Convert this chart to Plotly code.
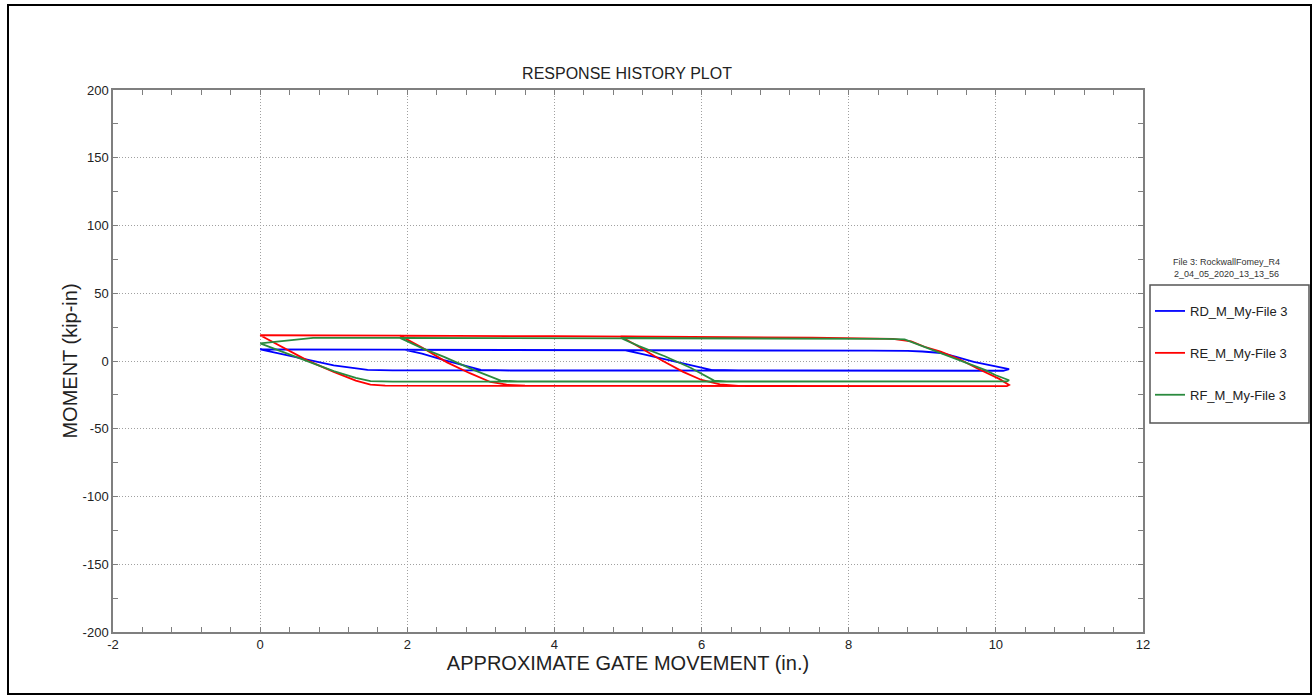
import plotly.graph_objects as go

# ---- response history of the three gate sensors (moment vs. gate movement) ----
# Each series is a sequence of branches: unloading at a reversal point,
# travel to the far end, reload at the far end, and return along the top.

# RD
rd_unload_0_x = [0.0, 0.3, 0.64, 1.0, 1.46, 1.8]
rd_unload_0_y = [8.6, 5.0, 0.7, -3.3, -6.6, -6.9]
rd_unload_2_x = [1.97, 2.2, 2.5, 3.0, 3.4]
rd_unload_2_y = [8.2, 5.5, 0.7, -6.6, -7.0]
rd_unload_5_x = [4.95, 5.2, 5.54, 6.13, 6.5]
rd_unload_5_y = [8.0, 5.0, 0.7, -6.6, -7.0]
rd_bottom_x = [5.0, 8.0, 10.1]
rd_bottom_y = [-7.0, -7.1, -7.2]
rd_reload_x = [10.18, 9.95, 9.7, 9.45, 9.26, 9.0, 8.8, 8.3]
rd_reload_y = [-6.0, -3.4, -0.7, 3.2, 5.9, 7.0, 7.4, 7.6]
rd_top_x = [6.0, 4.0, 2.0, 0.0]
rd_top_y = [7.9, 8.1, 8.2, 8.6]

# RE
re_unload_0_x = [0.0, 0.3, 0.64, 1.0, 1.3, 1.5, 1.7]
re_unload_0_y = [19.0, 10.5, 0.5, -8.0, -14.5, -17.5, -18.2]
re_unload_2_x = [1.9, 2.2, 2.54, 2.85, 3.13, 3.35, 3.6]
re_unload_2_y = [18.7, 10.0, -1.0, -9.0, -15.5, -17.5, -18.2]
re_unload_5_x = [4.9, 5.1, 5.45, 5.75, 6.0, 6.25, 6.5]
re_unload_5_y = [18.1, 12.0, 0.7, -8.0, -14.0, -17.3, -18.3]
re_bottom_x = [5.0, 7.0, 9.0, 10.15]
re_bottom_y = [-18.4, -18.5, -18.5, -18.6]
re_reload_x = [10.18, 10.04, 9.75, 9.5, 9.25, 9.03, 8.85, 8.6]
re_reload_y = [-17.7, -13.0, -5.5, 1.5, 7.0, 10.5, 14.5, 16.3]
re_top_x = [7.5, 6.0, 4.0, 1.9, 0.0]
re_top_y = [17.2, 17.8, 18.3, 18.7, 19.0]

# RF
rf_unload_0_x = [0.0, 0.3, 0.64, 1.0, 1.3, 1.5, 1.8]
rf_unload_0_y = [13.0, 7.0, 0.0, -7.5, -12.5, -14.8, -15.2]
rf_unload_2_x = [1.9, 2.2, 2.5, 2.9, 3.27, 3.5]
rf_unload_2_y = [17.1, 9.5, 3.0, -6.5, -14.5, -15.1]
rf_unload_5_x = [4.9, 5.15, 5.5, 5.85, 6.17, 6.4]
rf_unload_5_y = [17.0, 11.0, 3.5, -5.0, -14.5, -15.2]
rf_bottom_x = [5.0, 8.0, 10.15]
rf_bottom_y = [-15.1, -15.0, -15.0]
rf_reload_x = [10.18, 10.0, 9.85, 9.5, 9.25, 9.03, 8.76, 8.5]
rf_reload_y = [-14.2, -10.5, -6.6, 0.7, 6.0, 10.3, 16.0, 16.4]
rf_top_x = [6.0, 4.0, 1.9, 0.72, 0.35, 0.0]
rf_top_y = [16.8, 17.0, 17.1, 17.0, 15.2, 13.0]

series_names = ["RD_M_My-File 3", "RE_M_My-File 3", "RF_M_My-File 3"]
series_colors = ["#0000ff", "#ff0000", "#2a8a3e"]

x_ticks = [-2, 0, 2, 4, 6, 8, 10, 12]
x_tick_text = ["-2", "0", "2", "4", "6", "8", "10", "12"]
y_ticks = [-200, -150, -100, -50, 0, 50, 100, 150, 200]
y_tick_text = ["-200", "-150", "-100", "-50", "0", "50", "100", "150", "200"]

legend_note = "File 3: RockwallFomey_R4<br>2_04_05_2020_13_13_56"


def cut_top(xs, ys, x_stop):
    """Part of the return branch lying right of x_stop."""
    px = [x for x in xs if x > x_stop]
    py = [y for x, y in zip(xs, ys) if x > x_stop]
    return px, py


def history(unloads, bottom, reload, top):
    """Chain the branches: each unload runs to the far end, reloads, and returns
    along the top until the next reversal point."""
    hx, hy = [], []
    for i, (ux, uy) in enumerate(unloads):
        hx += ux
        hy += uy
        hx += [x for x in bottom[0] if x > ux[-1]]
        hy += [y for x, y in zip(bottom[0], bottom[1]) if x > ux[-1]]
        hx += reload[0]
        hy += reload[1]
        stop = unloads[i + 1][0][0] if i + 1 < len(unloads) else -1
        tx, ty = cut_top(top[0], top[1], stop)
        hx += tx
        hy += ty
    return hx, hy


rd_x, rd_y = history(
    [(rd_unload_0_x, rd_unload_0_y), (rd_unload_2_x, rd_unload_2_y), (rd_unload_5_x, rd_unload_5_y)],
    (rd_bottom_x, rd_bottom_y), (rd_reload_x, rd_reload_y), (rd_top_x, rd_top_y))
re_x, re_y = history(
    [(re_unload_0_x, re_unload_0_y), (re_unload_2_x, re_unload_2_y), (re_unload_5_x, re_unload_5_y)],
    (re_bottom_x, re_bottom_y), (re_reload_x, re_reload_y), (re_top_x, re_top_y))
rf_x, rf_y = history(
    [(rf_unload_0_x, rf_unload_0_y), (rf_unload_2_x, rf_unload_2_y), (rf_unload_5_x, rf_unload_5_y)],
    (rf_bottom_x, rf_bottom_y), (rf_reload_x, rf_reload_y), (rf_top_x, rf_top_y))

fig = go.Figure()
for i, (xs, ys) in enumerate([(rd_x, rd_y), (re_x, re_y), (rf_x, rf_y)]):
    fig.add_trace(go.Scatter(
        x=xs, y=ys, mode="lines", name=series_names[i],
        legendgroup=f"g{i}",
        line=dict(color=series_colors[i], width=1.8),
    ))

W, H = 1314, 698
L, R, T, B = 113, 171, 90, 66
pw, ph = W - L - R, H - T - B


def px_x(p):
    return (p - L) / pw


def px_y(p):
    return (H - B - p) / ph


FONT = "Liberation Sans, Arial"

axis_common = dict(
    showline=True, linecolor="#7f7f7f", linewidth=1.5, mirror="ticks",
    ticks="inside", ticklen=5, tickcolor="#7f7f7f", tickwidth=1,
    showgrid=True, gridcolor="#a0a0a0", griddash="1px,2px", gridwidth=1,
    zeroline=False,
    tickfont=dict(family=FONT, size=13, color="#222"),
    title_font=dict(family=FONT, size=20, color="#222"),
)

fig.update_layout(
    width=W, height=H,
    margin=dict(l=L, r=R, t=T, b=B),
    paper_bgcolor="white", plot_bgcolor="white",
    font=dict(family=FONT, color="#222"),
    title=dict(text="RESPONSE HISTORY PLOT", x=px_x(627), xref="paper", xanchor="center",
               y=1 - 73 / H, yref="container", yanchor="middle",
               font=dict(family=FONT, size=16, color="#222")),
    xaxis=dict(range=[-2, 12], tickvals=x_ticks, ticktext=x_tick_text,
               title=dict(text="APPROXIMATE GATE MOVEMENT (in.)", standoff=0),
               minor=dict(dtick=0.4, ticks="inside", ticklen=5, tickcolor="#7f7f7f", showgrid=False),
               **axis_common),
    yaxis=dict(range=[-200, 200], tickvals=y_ticks, ticktext=y_tick_text,
               title=dict(text="MOMENT (kip-in)", standoff=0),
               minor=dict(dtick=25, ticks="inside", ticklen=5, tickcolor="#7f7f7f", showgrid=False),
               **axis_common),
    legend=dict(x=px_x(1150), y=px_y(296), xanchor="left", yanchor="top",
                borderwidth=0, bgcolor="rgba(0,0,0,0)",
                traceorder="grouped", tracegroupgap=22,
                font=dict(family=FONT, size=13, color="#222")),
    showlegend=True,
)

# legend frame
fig.add_shape(type="rect", xref="paper", yref="paper",
              x0=px_x(1150), x1=px_x(1309), y0=px_y(423), y1=px_y(285),
              line=dict(color="#555", width=1.5), fillcolor="rgba(0,0,0,0)", layer="below")

fig.add_annotation(text=legend_note, xref="paper", yref="paper",
                   x=px_x(1226), y=px_y(268), xanchor="center", yanchor="middle",
                   showarrow=False,
                   font=dict(family=FONT, size=9, color="#333"),
                   align="center")

# outer frame of the page
fig.add_shape(type="rect", xref="paper", yref="paper",
              x0=px_x(8), x1=px_x(1311), y0=px_y(694), y1=px_y(5),
              line=dict(color="black", width=2), fillcolor="rgba(0,0,0,0)", layer="above")

fig.write_html("out.html")
